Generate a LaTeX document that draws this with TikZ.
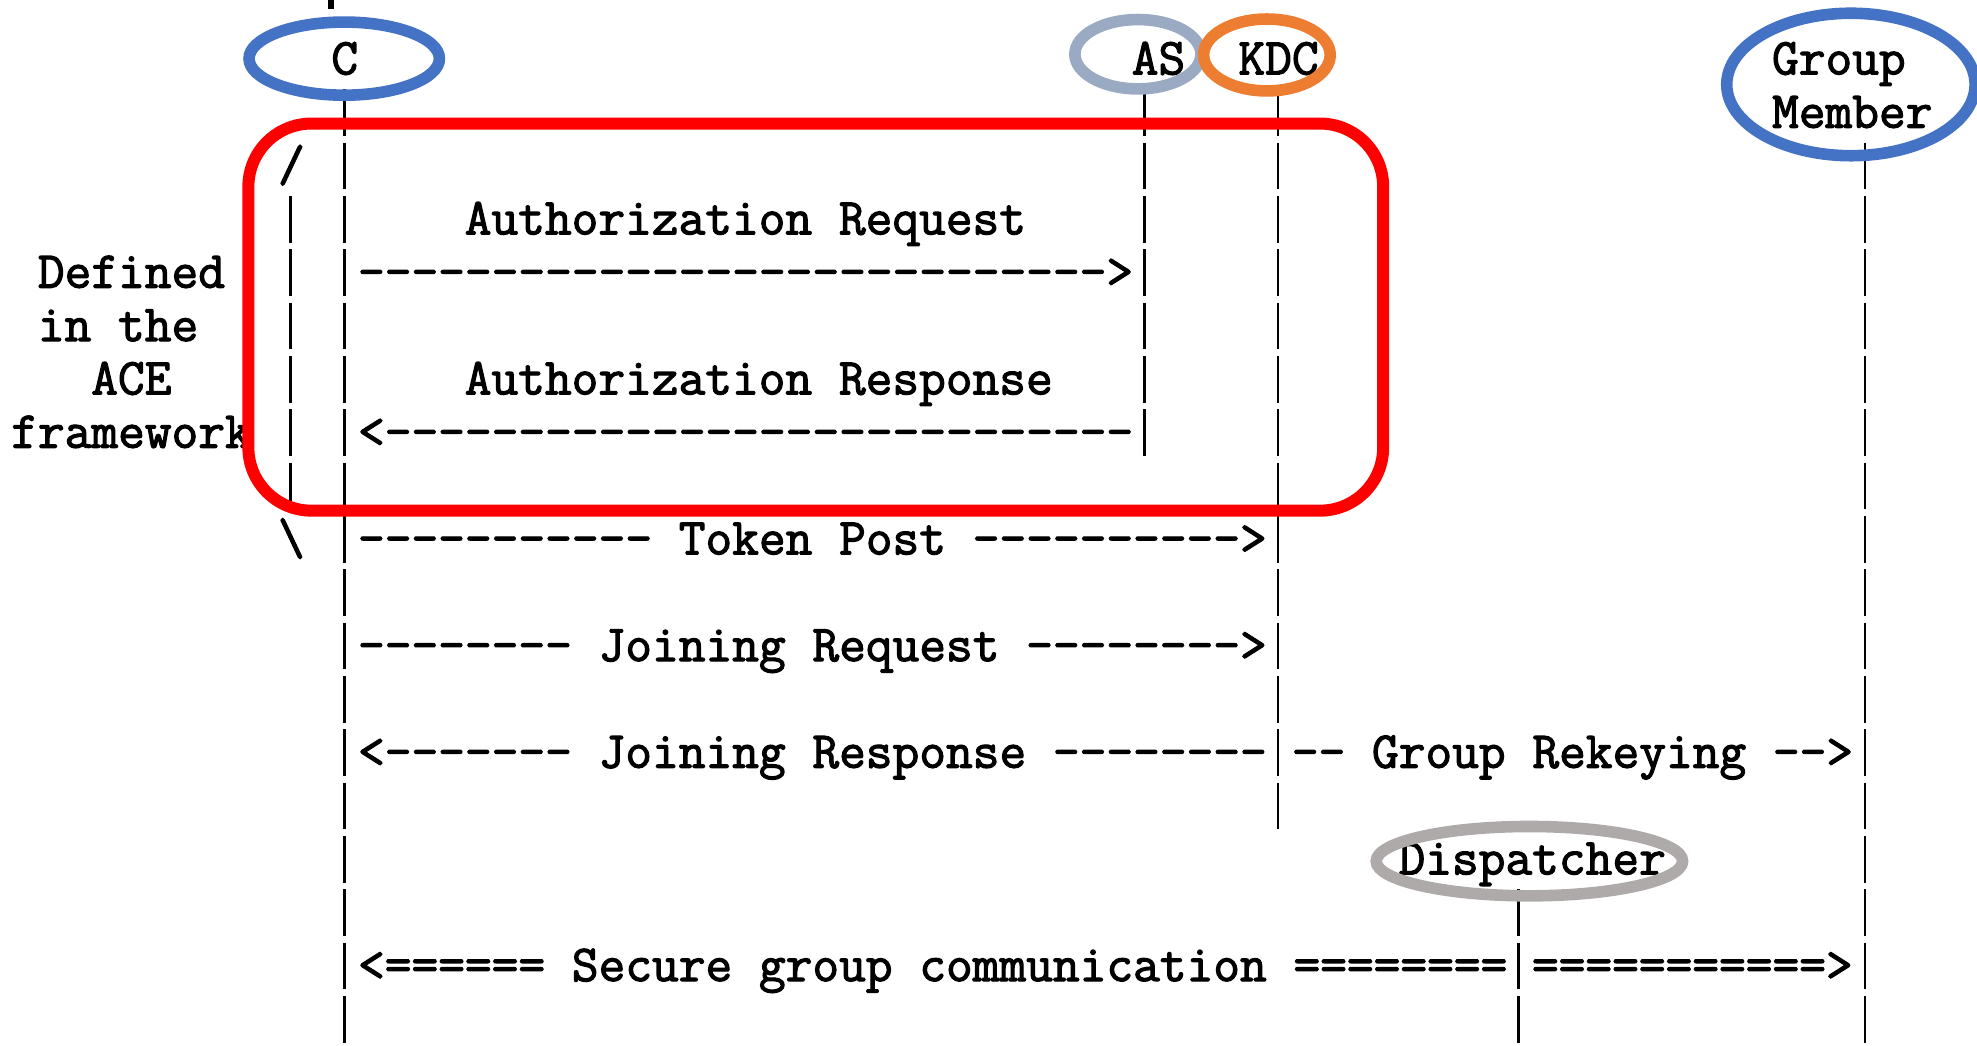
\documentclass[tikz,border=0pt]{standalone}
\usepackage{fontspec}
\newfontfamily\asciifont{Latin Modern Mono}[FakeBold=2.2]
\definecolor{actblue}{HTML}{4472C4}
\definecolor{actorange}{HTML}{ED7D31}
\definecolor{actslate}{HTML}{9AAAC2}
\definecolor{actgray}{HTML}{AEAAAA}
\definecolor{boxred}{HTML}{FF0000}

% character grid of the ASCII chart: column / row centres
\newcommand\ascol[1]{273+21.16*(#1)}
\newcommand\asrow[1]{47+42.3*(#1)}
% place a text string starting at column #2 on row #3
\newcommand\astext[4]{\node[ascii] (#1) at ({\ascol{#2}-10.58},{\asrow{#3}+12}) {#4};}

\tikzset{
  ascii/.style={font={\asciifont\fontsize{20.58pt}{21.15pt}\selectfont},
    inner sep=0pt, anchor=base west, text=black},
  lifeline/.style={line width=1.1pt, dash pattern=on 18.5pt off 2.65pt},
  ring/.style={line width=4.6pt},
}

\begin{document}
\begin{tikzpicture}[x=0.5pt, y=-0.5pt]
\useasboundingbox (0,0) rectangle (1568,829);
\clip (0,0) rectangle (1568,829);

% stub of a bar cut off at the top edge
\fill[black] (260,0) rectangle (265,7.4);

% participants
\astext{hC}{0}{0}{C}
\astext{hAS}{30}{0}{AS}
\astext{hKDC}{34}{0}{KDC}
\astext{hGa}{54}{0}{Group}
\astext{hGb}{54}{1}{Member}
\astext{hDisp}{40}{15}{Dispatcher}

% bracket and its note
\astext{brTop}{-2}{2}{/}
\astext{brBot}{-2}{9}{\textbackslash}
\astext{noteA}{-11}{4}{Defined}
\astext{noteB}{-11}{5}{in the}
\astext{noteC}{-9}{6}{ACE}
\astext{noteD}{-12}{7}{framework}

% messages
\astext{msgA}{5}{3}{Authorization Request}
\astext{arrA}{1}{4}{---------------------------->}
\astext{msgB}{5}{6}{Authorization Response}
\astext{arrB}{1}{7}{<----------------------------}
\astext{arrC}{1}{9}{----------- Token Post ---------->}
\astext{arrD}{1}{11}{-------- Joining Request -------->}
\astext{arrE}{1}{13}{<------- Joining Response --------}
\astext{arrF}{36}{13}{-- Group Rekeying -->}
\astext{arrG}{1}{17}{<====== Secure group communication ========}
\astext{arrH}{45}{17}{===========>}

% lifeline ends
\coordinate (cTop)  at ({\ascol{0}},{\asrow{1}-18.5});
\coordinate (cEnd)  at ({\ascol{0}},840);
\coordinate (asTop) at ({\ascol{30}},{\asrow{1}-18.5});
\coordinate (asEnd) at ({\ascol{30}},{\asrow{7}+18.5});
\coordinate (kTop)  at ({\ascol{35}},{\asrow{1}-18.5});
\coordinate (kEnd)  at ({\ascol{35}},{\asrow{14}+18.5});
\coordinate (gTop)  at ({\ascol{57}},{\asrow{2}-18.5});
\coordinate (gEnd)  at ({\ascol{57}},840);
\coordinate (dTop)  at ({\ascol{44}},{\asrow{16}-18.5});
\coordinate (dEnd)  at ({\ascol{44}},840);
\coordinate (bTop)  at ({\ascol{-2}},{\asrow{3}-18.5});
\coordinate (bEnd)  at ({\ascol{-2}},{\asrow{8}+18.5});

\draw[lifeline] (cTop) -- (cEnd);
\draw[lifeline] (asTop) -- (asEnd);
\draw[lifeline] (kTop) -- (kEnd);
\draw[lifeline] (gTop) -- (gEnd);
\draw[lifeline] (dTop) -- (dEnd);
\draw[lifeline] (bTop) -- (bEnd);

% ACE framework exchange
\draw[boxred, line width=4.75pt, rounded corners=25pt] (197,98) rectangle (1097,405);

% participant rings
\draw[ring, actblue]   (273,46.5) ellipse [x radius=37.75pt, y radius=14.5pt];
\draw[ring, actslate]  (902.5,43) ellipse [x radius=25pt, y radius=13.75pt];
\draw[ring, actorange] (1004.8,43.6) ellipse [x radius=25.1pt, y radius=14.25pt];
\draw[ring, actblue]   (1468,67) ellipse [x radius=49.25pt, y radius=28.25pt];
\draw[ring, actgray]   (1213,683) ellipse [x radius=60.75pt, y radius=13.75pt];
\end{tikzpicture}
\end{document}
